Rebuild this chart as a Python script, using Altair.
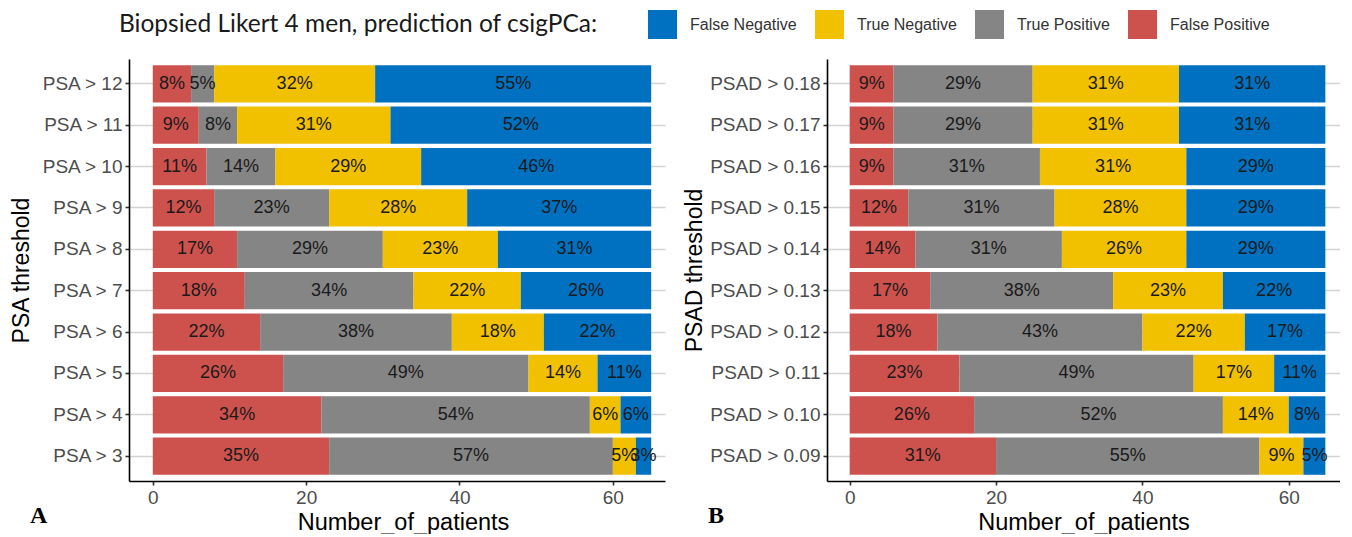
import altair as alt
import pandas as pd

# ---- data ----
outcomes_stack = ["False Positive", "True Positive", "True Negative", "False Negative"]
legend_order = ["False Negative", "True Negative", "True Positive", "False Positive"]
legend_colors = ["#0070C0", "#F1C100", "#858585", "#CD524E"]

psa_thresholds = ["PSA > 12", "PSA > 11", "PSA > 10", "PSA > 9", "PSA > 8",
                  "PSA > 7", "PSA > 6", "PSA > 5", "PSA > 4", "PSA > 3"]
psa_fp = [5, 6, 7, 8, 11, 12, 14, 17, 22, 23]
psa_tp = [3, 5, 9, 15, 19, 22, 25, 32, 35, 37]
psa_tn = [21, 20, 19, 18, 15, 14, 12, 9, 4, 3]
psa_fn = [36, 34, 30, 24, 20, 17, 14, 7, 4, 2]

psad_thresholds = ["PSAD > 0.18", "PSAD > 0.17", "PSAD > 0.16", "PSAD > 0.15", "PSAD > 0.14",
                   "PSAD > 0.13", "PSAD > 0.12", "PSAD > 0.11", "PSAD > 0.10", "PSAD > 0.09"]
psad_fp = [6, 6, 6, 8, 9, 11, 12, 15, 17, 20]
psad_tp = [19, 19, 20, 20, 20, 25, 28, 32, 34, 36]
psad_tn = [20, 20, 20, 18, 17, 15, 14, 11, 9, 6]
psad_fn = [20, 20, 19, 19, 19, 14, 11, 7, 5, 3]

x_ticks = [0, 20, 40, 60]
legend_title = "Biopsied Likert 4 men, prediction of csigPCa:"


def long_table(thresholds, fp, tp, tn, fn):
    rows = []
    for i, t in enumerate(thresholds):
        for k, (name, vals) in enumerate(zip(outcomes_stack, [fp, tp, tn, fn])):
            rows.append({"threshold": t, "outcome": name, "count": vals[i], "ord": k})
    return pd.DataFrame(rows)


df_psa = long_table(psa_thresholds, psa_fp, psa_tp, psa_tn, psa_fn)
df_psad = long_table(psad_thresholds, psad_fp, psad_tp, psad_tn, psad_fn)

LABEL_FONT = "Liberation Sans"

color_enc = alt.Color(
    "outcome:N",
    scale=alt.Scale(domain=legend_order, range=legend_colors),
    legend=alt.Legend(
        orient="none", legendX=-10, legendY=-49, direction="horizontal",
        title=legend_title, titleOrient="left", titleFont="Lato", titleFontSize=24.5,
        titleFontWeight="normal", titleColor="#1a1a1a", titlePadding=50,
        titleAnchor="middle", titleBaseline="middle", titleLimit=700,
        symbolType="square", symbolSize=841, symbolStrokeWidth=0, symbolOpacity=1,
        labelFont=LABEL_FONT, labelFontSize=16, labelColor="#333333",
        labelOffset=13, columnPadding=18, padding=0,
    ),
)


def panel(df, order, ytitle, width, xmax, letter, letter_x, ytitle_pad, xtitle_x=None):
    base = alt.Chart(df).transform_stack(
        stack="count", groupby=["threshold"],
        sort=[alt.SortField("ord", order="ascending")], as_=["x0", "x1"],
    ).transform_joinaggregate(
        total="sum(count)", groupby=["threshold"]
    ).transform_calculate(
        mid="(datum.x0 + datum.x1) / 2",
        pct="format(datum.count / datum.total, '.0%')",
    )
    y_enc = alt.Y(
        "threshold:N", sort=order,
        scale=alt.Scale(paddingInner=0.1, paddingOuter=0.15),
        axis=alt.Axis(
            title=ytitle, bandPosition=0.5, grid=True, gridColor="#d3d3d3", gridWidth=1.6,
            domain=True, domainColor="#000000", domainWidth=1.6,
            ticks=True, tickColor="#333333", tickSize=4, tickWidth=1.6,
            labelFont=LABEL_FONT, labelFontSize=19, labelColor="#4d4d4d", labelPadding=3,
            titleFont=LABEL_FONT, titleFontSize=23, titleFontWeight="normal",
            titleColor="#000000", titlePadding=ytitle_pad,
        ),
    )
    x_scale = alt.Scale(domain=[-3.1, xmax], nice=False, zero=False)
    axis_kw = dict(
        title="Number_of_patients", values=x_ticks, grid=False,
        domain=True, domainColor="#000000", domainWidth=1.6,
        ticks=True, tickColor="#333333", tickSize=4, tickWidth=1.6,
        labelFont=LABEL_FONT, labelFontSize=19, labelColor="#4d4d4d", labelPadding=3,
        titleFont=LABEL_FONT, titleFontSize=23.5, titleFontWeight="normal",
        titleColor="#000000", titlePadding=3,
    )
    if xtitle_x is not None:
        axis_kw["titleX"] = xtitle_x
    bars = base.mark_bar().encode(
        y=y_enc,
        x=alt.X("x0:Q", scale=x_scale, axis=alt.Axis(**axis_kw)),
        x2="x1:Q",
        color=color_enc,
    )
    labels = base.mark_text(
        font=LABEL_FONT, fontSize=18, color="#1a1a1a", align="center", baseline="middle"
    ).encode(
        y=alt.Y("threshold:N", sort=order),
        x=alt.X("mid:Q"),
        text="pct:N",
    )
    tag = alt.Chart(pd.DataFrame({"tag": [letter]})).mark_text(
        font="Liberation Serif", fontWeight="bold", fontSize=24, color="#000000",
        align="left", baseline="alphabetic",
    ).encode(x=alt.value(letter_x), y=alt.value(464), text="tag:N")
    return alt.layer(bars, labels, tag).properties(width=width, height=422)


left = panel(df_psa, psa_thresholds, "PSA threshold", 536, 66.8, "A", -99, 8, 274)
right = panel(df_psad, psad_thresholds, "PSAD threshold", 513, 67.0, "B", -119, 3)

chart = alt.hconcat(left, right, spacing=18).properties(
    padding={"left": 2, "top": 2, "right": 0, "bottom": 0}
).configure_view(strokeWidth=0)

chart.save("out.html", embed_options={"renderer": "svg", "actions": False})
